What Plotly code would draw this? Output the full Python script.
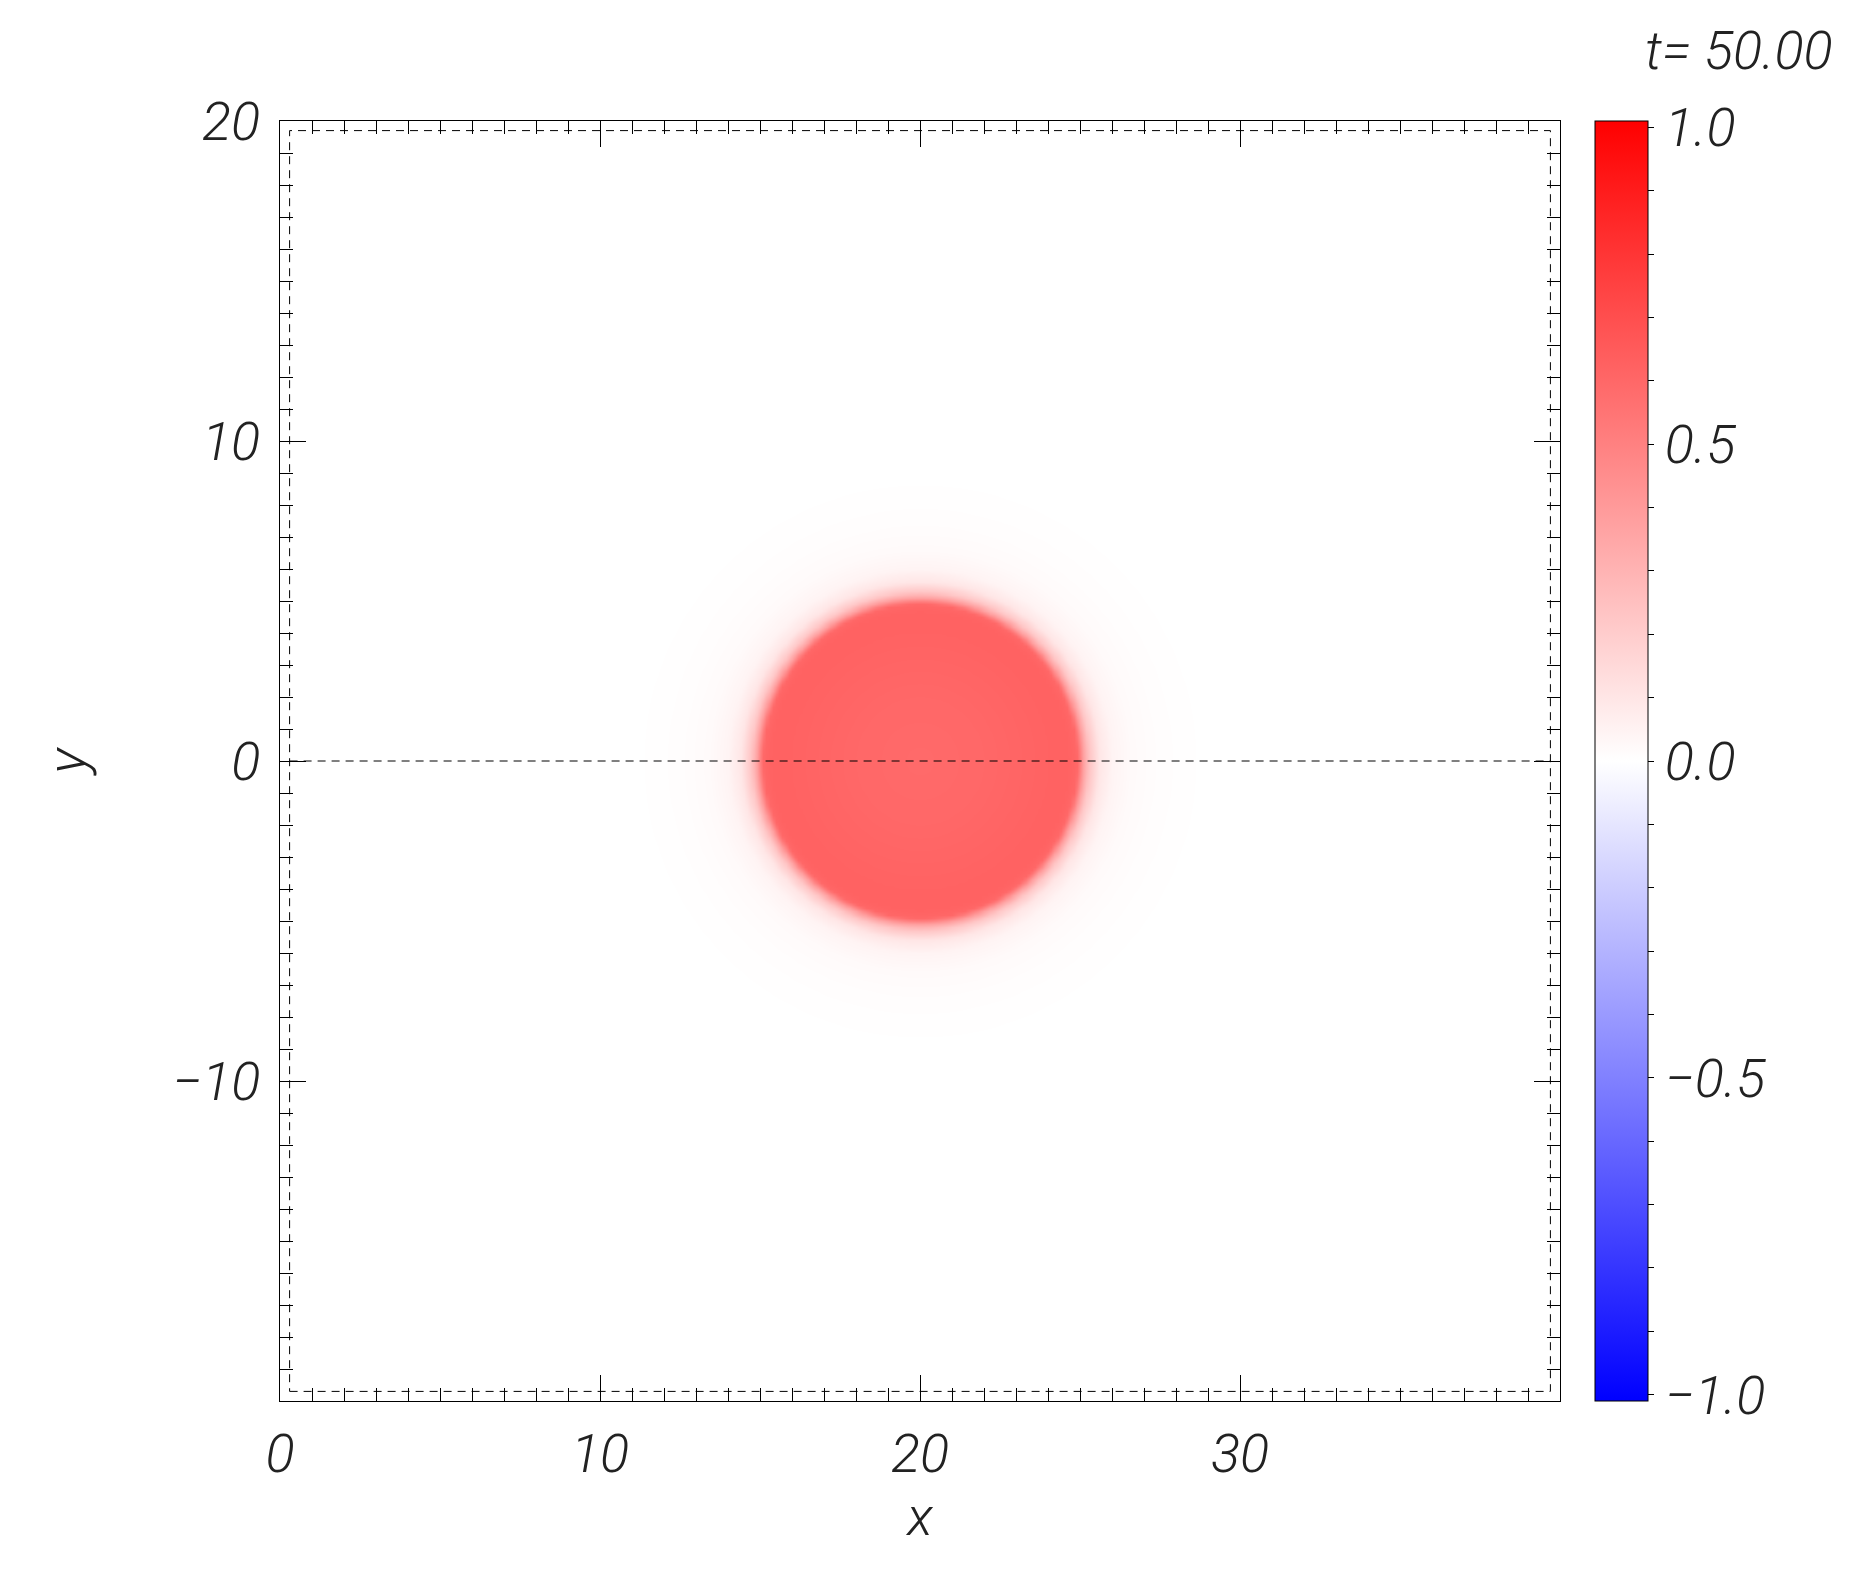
import numpy as np
import plotly.graph_objects as go

# simulation snapshot
time_label = "t= 50.00"
x_min, x_max = 0.0, 40.0
y_min, y_max = -20.0, 20.0
disc_center = (20.0, 0.0)

# radial profile of the field around the disc centre
profile_r = [0.0, 2.0, 4.0, 4.7, 4.9, 5.0, 5.1, 5.3, 5.6, 6.0, 6.6, 7.5, 9.0, 30.0]
profile_val = [0.59, 0.60, 0.62, 0.62, 0.60, 0.50, 0.38, 0.22, 0.10, 0.045, 0.02, 0.008, 0.0, 0.0]

# inner dashed boundary and the mid-plane line
inner_x = [0.3, 39.7, 39.7, 0.3, 0.3]
inner_y = [-19.7, -19.7, 19.7, 19.7, -19.7]
mid_x = [0.3, 39.7]
mid_y = [0.0, 0.0]

x_ticks = [0, 10, 20, 30]
x_ticktext = ["0", "10", "20", "30"]
y_ticks = [-10, 0, 10, 20]
y_ticktext = ["\u221210", "0", "10", "20"]
cb_ticks = [round(-1.0 + 0.1 * i, 1) for i in range(21)]
cb_labels = {-1.0: "\u22121.0", -0.5: "\u22120.5", 0.0: "0.0", 0.5: "0.5", 1.0: "1.0"}

xs = np.linspace(x_min, x_max, 401)
ys = np.linspace(y_min, y_max, 401)
X, Y = np.meshgrid(xs, ys)
R = np.hypot(X - disc_center[0], Y - disc_center[1])
Z = np.interp(R, profile_r, profile_val)

FONT = "Roboto"
fs = 54

# the page body has an 8px margin, so offsets are shifted by it
W, H = 1857, 1577
L, T = 272, 113
PW, PH = 1280, 1280

axis_font = dict(family=FONT, size=fs, color="#222", style="italic", weight=300)

fig = go.Figure()
fig.add_trace(go.Heatmap(
    x=xs, y=ys, z=Z,
    zmin=-1.01, zmax=1.01,
    colorscale=[[0, "rgb(0,0,255)"], [0.5, "rgb(255,255,255)"], [1, "rgb(255,0,0)"]],
    zsmooth="best",
    colorbar=dict(
        x=(1587 - L) / PW, xanchor="left", xpad=0,
        y=0.5, yanchor="middle", len=1, lenmode="fraction", ypad=0,
        thickness=53, thicknessmode="pixels",
        outlinewidth=1, outlinecolor="black",
        ticks="outside", ticklen=6, tickcolor="black", tickwidth=1,
        tickmode="array", tickvals=cb_ticks,
        ticktext=[cb_labels.get(v, "") for v in cb_ticks],
        tickfont=axis_font,
    ),
))

dash_line = dict(color="black", width=1, dash="8px,6px")
fig.add_trace(go.Scatter(x=inner_x, y=inner_y, mode="lines", line=dash_line,
                         showlegend=False, hoverinfo="skip"))
fig.add_trace(go.Scatter(x=mid_x, y=mid_y, mode="lines", line=dash_line,
                         showlegend=False, hoverinfo="skip"))

common = dict(
    showline=True, linecolor="black", linewidth=1, mirror="ticks",
    ticks="inside", ticklen=26, tickwidth=1, tickcolor="black",
    showgrid=False, zeroline=False, tickfont=axis_font,
    minor=dict(ticks="inside", ticklen=13, dtick=1, tickwidth=1, tickcolor="black", showgrid=False),
)

fig.update_layout(
    width=W, height=H,
    margin=dict(l=L, r=W - L - PW, t=T, b=H - T - PH),
    paper_bgcolor="white", plot_bgcolor="white",
    xaxis=dict(range=[x_min, x_max], tickmode="array", tickvals=x_ticks, ticktext=x_ticktext,
               title=dict(text="x", font=axis_font, standoff=9), ticklabelstandoff=5, **common),
    yaxis=dict(range=[y_min, y_max], tickmode="array", tickvals=y_ticks, ticktext=y_ticktext,
               title=dict(text="y", font=axis_font, standoff=69), ticklabelstandoff=8, **common),
    annotations=[dict(
        text=time_label, xref="paper", yref="paper",
        x=(1827 - L) / PW, y=(T + PH - 42) / PH, xanchor="right", yanchor="middle",
        showarrow=False, font=axis_font,
    )],
)

fig.write_html("out.html")
